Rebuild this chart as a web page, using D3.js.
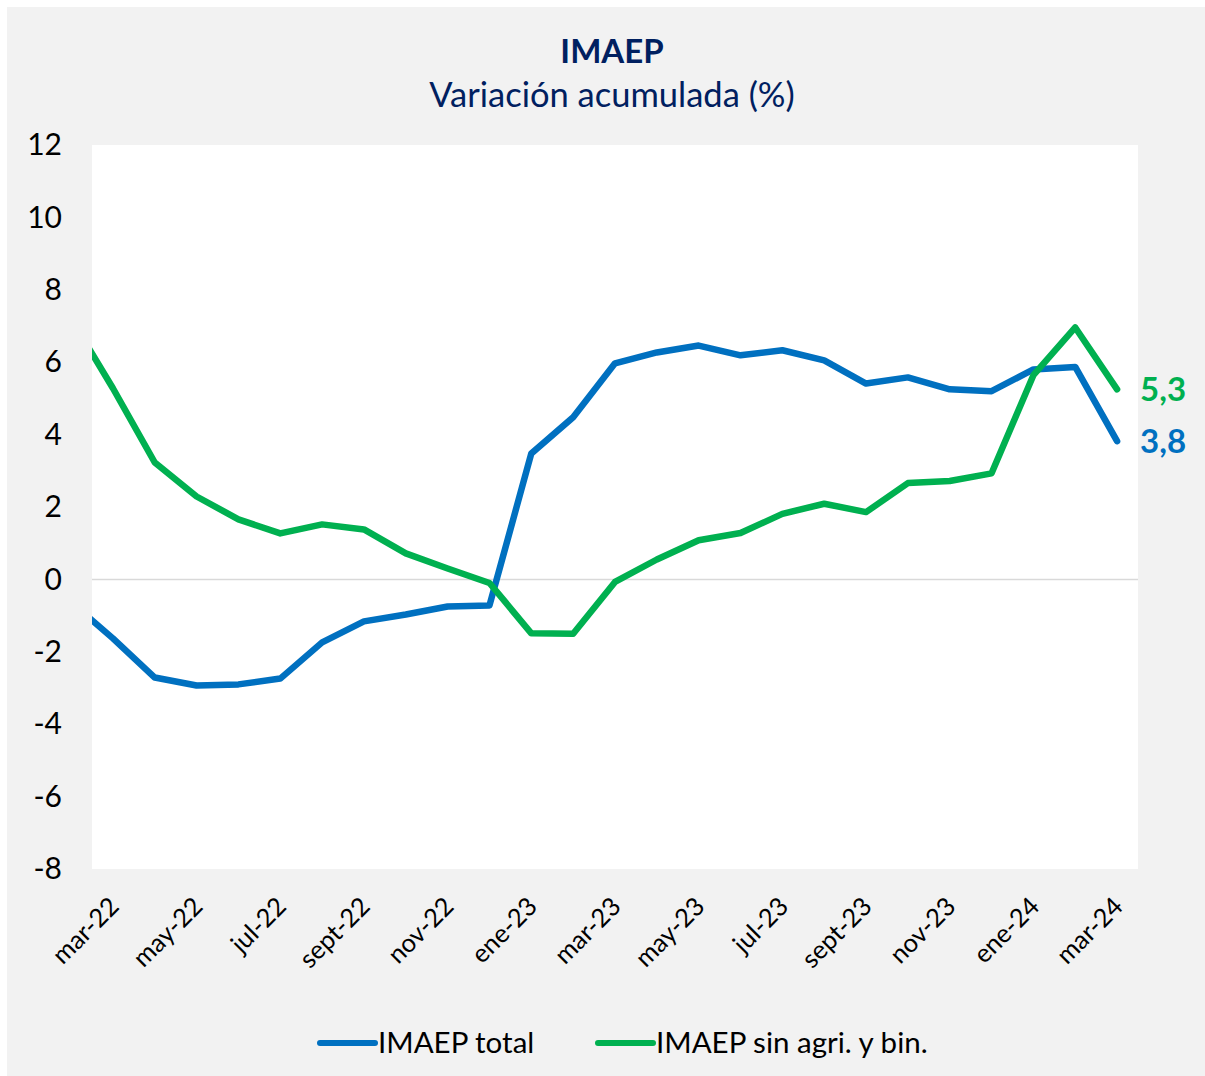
<!DOCTYPE html>
<html>
<head>
<meta charset="utf-8">
<script src="https://cdn.jsdelivr.net/npm/d3@7"></script>
<style>
  body { margin: 0; background: #fff; }
  text { font-family: "Gill Sans MT", "Gill Sans", Lato, sans-serif; }
</style>
</head>
<body>
<script>
// months of the series; feb-22 only feeds the clipped first segment
const MONTHS = ['feb-22', 'mar-22', 'abr-22', 'may-22', 'jun-22', 'jul-22', 'ago-22', 'sept-22', 'oct-22',
  'nov-22', 'dic-22', 'ene-23', 'feb-23', 'mar-23', 'abr-23', 'may-23', 'jun-23', 'jul-23', 'ago-23',
  'sept-23', 'oct-23', 'nov-23', 'dic-23', 'ene-24', 'feb-24', 'mar-24'];
const TICK_LABELS = ['mar-22', 'may-22', 'jul-22', 'sept-22', 'nov-22', 'ene-23', 'mar-23',
  'may-23', 'jul-23', 'sept-23', 'nov-23', 'ene-24', 'mar-24'];
const Y_TICKS = [-8, -6, -4, -2, 0, 2, 4, 6, 8, 10, 12];

const IMAEP_TOTAL = [-0.63, -1.63, -2.71, -2.93, -2.90, -2.74, -1.74, -1.16, -0.97, -0.75, -0.72,
  3.48, 4.48, 5.97, 6.27, 6.46, 6.19, 6.33, 6.05, 5.41, 5.58, 5.25, 5.20, 5.80, 5.87, 3.82];
const IMAEP_SIN_AGRI = [7.2, 5.28, 3.23, 2.29, 1.66, 1.27, 1.52, 1.38, 0.72, 0.30, -0.10,
  -1.49, -1.50, -0.07, 0.55, 1.08, 1.28, 1.81, 2.09, 1.86, 2.66, 2.72, 2.93, 5.64, 6.96, 5.25];

const SERIES = [
  { name: 'IMAEP total', values: IMAEP_TOTAL, color: '#0070C0', label: '3,8' },
  { name: 'IMAEP sin agri. y bin.', values: IMAEP_SIN_AGRI, color: '#00B050', label: '5,3' }
];

const W = 1205, H = 1076;
const plot = { left: 92, top: 145, right: 1138, bottom: 869 };
const NAVY = '#002060';
const FONT = '"Gill Sans MT", "Gill Sans", Lato, sans-serif';

const svg = d3.select('body').append('svg')
  .attr('width', W)
  .attr('height', H);

// outer gray panel
svg.append('rect')
  .attr('x', 7).attr('y', 7)
  .attr('width', W - 7).attr('height', H - 7)
  .attr('fill', '#f2f2f2');

svg.append('rect')
  .attr('x', plot.left).attr('y', plot.top)
  .attr('width', plot.right - plot.left).attr('height', plot.bottom - plot.top)
  .attr('fill', '#fff');

// titles
svg.append('text')
  .attr('x', 612).attr('y', 63)
  .attr('text-anchor', 'middle')
  .attr('fill', NAVY)
  .attr('font-size', 33)
  .attr('font-weight', 'bold')
  .text('IMAEP');

svg.append('text')
  .attr('x', 612).attr('y', 107)
  .attr('text-anchor', 'middle')
  .attr('fill', NAVY)
  .attr('font-size', 34.5)
  .text('Variación acumulada (%)');

// scales: categories sit in the middle of equal bands
const x = d3.scaleLinear()
  .domain([0.5, MONTHS.length - 0.5])
  .range([plot.left, plot.right]);

const y = d3.scaleLinear()
  .domain([-8, 12])
  .range([plot.bottom, plot.top]);

// zero line
svg.append('line')
  .attr('x1', plot.left).attr('x2', plot.right)
  .attr('y1', y(0)).attr('y2', y(0))
  .attr('stroke', '#d9d9d9')
  .attr('stroke-width', 1.5);

// y axis (plain hyphen for negatives, like the original)
const yAxis = svg.append('g')
  .attr('transform', `translate(${plot.left - 30},0)`)
  .call(d3.axisLeft(y).tickValues(Y_TICKS).tickFormat(d => String(d)).tickSize(0).tickPadding(0));
yAxis.select('.domain').remove();
yAxis.selectAll('text')
  .attr('font-size', 30)
  .attr('fill', '#000')
  .style('font-family', FONT);

// x axis, labels rotated
const tickIdx = TICK_LABELS.map(l => MONTHS.indexOf(l));
const xAxis = svg.append('g')
  .attr('transform', `translate(0,${plot.bottom})`)
  .call(d3.axisBottom(x).tickValues(tickIdx).tickFormat(i => MONTHS[i]).tickSize(0));
xAxis.select('.domain').remove();
xAxis.selectAll('text')
  .attr('font-size', 25.5)
  .attr('fill', '#000')
  .attr('text-anchor', 'end')
  .attr('dy', 0)
  .attr('y', 0)
  .attr('transform', 'translate(7,39) rotate(-45)')
  .style('font-family', FONT);

// lines
svg.append('clipPath')
  .attr('id', 'plot-clip')
  .append('rect')
  .attr('x', plot.left).attr('y', plot.top)
  .attr('width', plot.right - plot.left).attr('height', plot.bottom - plot.top);

const line = d3.line()
  .x((d, i) => x(i))
  .y(d => y(d));

svg.append('g')
  .attr('clip-path', 'url(#plot-clip)')
  .selectAll('path')
  .data(SERIES)
  .join('path')
    .attr('d', d => line(d.values))
    .attr('fill', 'none')
    .attr('stroke', d => d.color)
    .attr('stroke-width', 6.5)
    .attr('stroke-linejoin', 'round')
    .attr('stroke-linecap', 'round');

// end labels
const last = MONTHS.length - 1;
svg.selectAll('.end-label')
  .data(SERIES)
  .join('text')
    .attr('class', 'end-label')
    .attr('x', x(last) + 23)
    .attr('y', d => y(d.values[last]))
    .attr('dy', '0.36em')
    .attr('fill', d => d.color)
    .attr('font-size', 33)
    .attr('font-weight', 'bold')
    .text(d => d.label);

// legend
const legendPos = [320, 598];
const legend = svg.selectAll('.legend')
  .data(SERIES)
  .join('g')
    .attr('class', 'legend')
    .attr('transform', (d, i) => `translate(${legendPos[i]},1043)`);

legend.append('line')
  .attr('x1', 0).attr('x2', 55)
  .attr('stroke', d => d.color)
  .attr('stroke-width', 6)
  .attr('stroke-linecap', 'round');

legend.append('text')
  .attr('x', 58)
  .attr('y', 10)
  .attr('font-size', 29.5)
  .attr('fill', '#000')
  .text(d => d.name);
</script>
</body>
</html>
